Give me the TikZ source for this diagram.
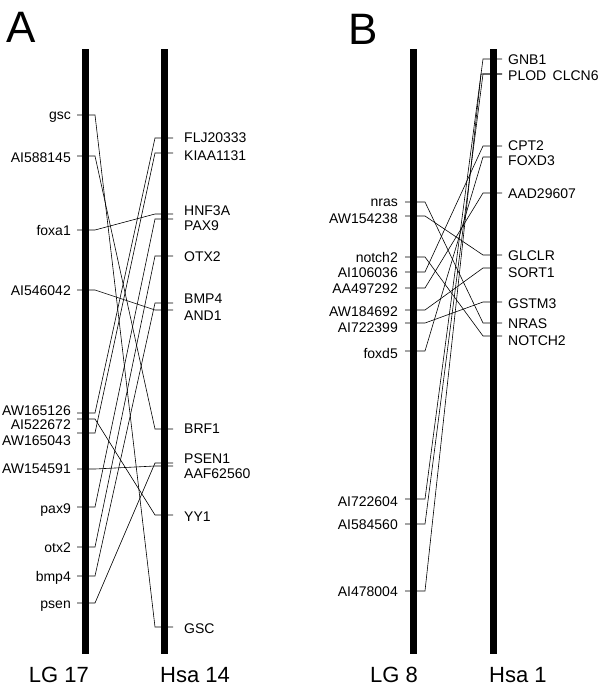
\documentclass[tikz,border=0pt]{standalone}
\usepackage{fontspec}
\setmainfont{Liberation Sans}
\usetikzlibrary{positioning}
\newcommand\labfont{\fontsize{14bp}{16bp}\selectfont}
\newcommand\chrfont{\fontsize{22bp}{26bp}\selectfont}
\newcommand\panelfont{\fontsize{44bp}{50bp}\selectfont}

\begin{document}
\begin{tikzpicture}[x=1bp,y=-1bp,
    chrom/.style={fill=black,draw=none,inner sep=0pt,minimum width=7bp,minimum height=605bp},
    llab/.style={anchor=east,inner sep=0pt,text height=10bp,text depth=0pt,font=\labfont},
    rlab/.style={anchor=west,inner sep=0pt,text height=10bp,text depth=0pt,font=\labfont},
    chrlab/.style={inner sep=0pt,font=\chrfont},
    link/.style={line width=0.6bp}]

  \useasboundingbox (0,0) rectangle (605,687);

  % Panel A
  \node[anchor=base west,inner sep=0pt,font=\panelfont] (panelA) at (6,43) {A};

  \foreach \name/\ty/\ly in {gsc/115/115, AI588145/156/157, foxa1/230/230, AI546042/290/290,
      AW165126/413/410, AI522672/419/424, AW165043/433/440, AW154591/469/468,
      pax9/507/508, otx2/547/547, bmp4/576/576, psen/603/603}
    {\node[llab] (\name) at (71,\ly) {\name};
     \coordinate (\name-a) at (77,\ty);
     \coordinate (\name-b) at (95,\ty);}

  \foreach \name/\ty/\ly in {FLJ20333/138/137, KIAA1131/153/155, HNF3A/214/210, PAX9/219/225,
      OTX2/256/256, BMP4/303/298, AND1/310/315, BRF1/429/428, PSEN1/463/458,
      AAF62560/466/473, YY1/515/516, GSC/627/628}
    {\node[rlab] (\name) at (184,\ly) {\name};
     \coordinate (\name-a) at (173,\ty);
     \coordinate (\name-b) at (155,\ty);}

  \foreach \source/\target in {gsc/GSC, AI588145/BRF1, foxa1/HNF3A, AI546042/AND1,
      AW165126/FLJ20333, AI522672/YY1, AW165043/KIAA1131, AW154591/AAF62560,
      pax9/PAX9, otx2/OTX2, bmp4/BMP4, psen/PSEN1}
    \draw[link] (\source-a) -- (\source-b) -- (\target-b) -- (\target-a);

  \node[chrom] (lg17) at (85.5,351.5) {};
  \node[chrom] (hsa14) at (164.5,351.5) {};
  \node[chrlab,anchor=base east] (lg17-name) at (89,682) {LG 17};
  \node[chrlab,anchor=base west] (hsa14-name) at (160,682) {Hsa 14};

  % Panel B
  \node[anchor=base west,inner sep=0pt,font=\panelfont] (panelB) at (348,45) {B};

  \foreach \name/\ty/\ly in {nras/202/201, AW154238/216/218, notch2/257/257, AI106036/272/272,
      AA497292/288/288, AW184692/310/311, AI722399/323/327, foxd5/351/353,
      AI722604/499/501, AI584560/524/524, AI478004/591/591}
    {\node[llab] (\name) at (398,\ly) {\name};
     \coordinate (\name-a) at (405,\ty);
     \coordinate (\name-b) at (425,\ty);}

  \foreach \name/\ty/\ly in {GNB1/59/60, PLOD/74/76, CPT2/146/145, FOXD3/157/160,
      AAD29607/193/193, GLCLR/255/255, SORT1/268/272, GSTM3/302/303,
      NRAS/323/323, NOTCH2/336/340}
    {\node[rlab] (\name) at (508,\ly) {\name};
     \coordinate (\name-a) at (502,\ty);
     \coordinate (\name-b) at (483,\ty);}

  \node[rlab,right=6bp of PLOD] (CLCN6) {CLCN6};
  \coordinate (CLCN6-a) at (PLOD-a);
  \coordinate (CLCN6-b) at (481,74);

  \foreach \source/\target in {nras/NRAS, AW154238/GLCLR, notch2/NOTCH2, AI106036/CPT2,
      AA497292/AAD29607, AW184692/SORT1, AI722399/GSTM3, foxd5/FOXD3,
      AI722604/GNB1, AI584560/PLOD, AI478004/CLCN6}
    \draw[link] (\source-a) -- (\source-b) -- (\target-b) -- (\target-a);

  \node[chrom] (lg8) at (413.5,351.5) {};
  \node[chrom] (hsa1) at (493.5,351.5) {};
  \node[chrlab,anchor=base east] (lg8-name) at (418,682) {LG 8};
  \node[chrlab,anchor=base west] (hsa1-name) at (489,682) {Hsa 1};
\end{tikzpicture}
\end{document}
